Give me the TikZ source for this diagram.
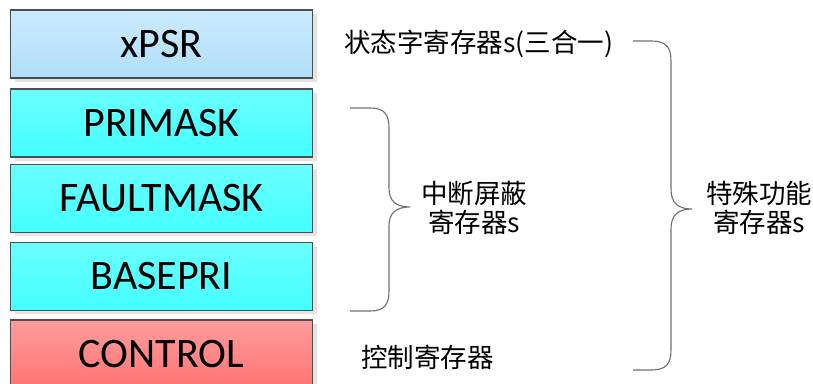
\documentclass[tikz,border=0pt]{standalone}
\usepackage{fontspec}
\setmainfont{Carlito}
\newfontfamily\cjk{Noto Sans CJK SC}
\definecolor{bluetop}{HTML}{CBEAFD}
\definecolor{bluebot}{HTML}{B0DEFA}
\definecolor{cyantop}{HTML}{6AFFFF}
\definecolor{cyanbot}{HTML}{44FFFF}
\definecolor{redtop}{HTML}{FF9C9C}
\definecolor{redbot}{HTML}{FF7474}
\definecolor{edge}{HTML}{4A4F4F}
\definecolor{shadowc}{HTML}{E3E3E3}
\definecolor{bracec}{HTML}{6E6E6E}
\begin{document}
\begin{tikzpicture}[x=1pt,y=-1pt,
  regbox/.style={draw=edge, line width=1.2pt, minimum width=302pt, minimum height=68pt,
    inner sep=0pt, font=\fontsize{42}{44}\selectfont},
  lbl/.style={font=\cjk\fontsize{26.5}{29}\selectfont, inner sep=0pt, align=center},
  bracepath/.style={draw=bracec, line width=1.1pt}
]
\useasboundingbox (0,0) rectangle (813,383);
% shadows
\foreach \t/\b in {10/78, 89/157, 165/232, 243/310, 320/392}{
  \fill[shadowc] (15,\t+4) rectangle (317,\b+4);
}
\node[regbox, top color=bluetop, bottom color=bluebot] (xpsr) at (161.5,44) {xPSR};
\node[regbox, top color=cyantop, bottom color=cyanbot] (primask) at (161.5,123) {PRIMASK};
\node[regbox, top color=cyantop, bottom color=cyanbot] (faultmask) at (161.5,198.5) {FAULTMASK};
\node[regbox, top color=cyantop, bottom color=cyanbot] (basepri) at (161.5,276.5) {BASEPRI};
\node[regbox, top color=redtop, bottom color=redbot] (control) at (161.5,354) {CONTROL};

% labels
\node[lbl, anchor=west] (status) at (344,44) {状态字寄存器s(三合一)};
\node[lbl, anchor=west] (intmask) at (421,208) {中断屏蔽\\寄存器s};
\node[lbl, anchor=west] (sfr) at (706,208) {特殊功能\\寄存器s};
\node[lbl, anchor=west] (ctrl) at (361,357) {控制寄存器};

% brace 1
\draw[bracepath] (350,108) -- (370,108) .. controls (384,108) and (389,114) .. (389,128)
  -- (389,188) .. controls (389,201) and (396,207) .. (410,207)
  .. controls (396,207) and (389,213) .. (389,226)
  -- (389,291) .. controls (389,305) and (384,311) .. (370,311) -- (350,311);
% brace 2
\draw[bracepath] (633,41) -- (651,41) .. controls (666,41) and (671,47) .. (671,61)
  -- (671,189) .. controls (671,203) and (678,209) .. (692,209)
  .. controls (678,209) and (671,215) .. (671,229)
  -- (671,350) .. controls (671,364) and (666,370) .. (651,370) -- (633,370);
\end{tikzpicture}
\end{document}
